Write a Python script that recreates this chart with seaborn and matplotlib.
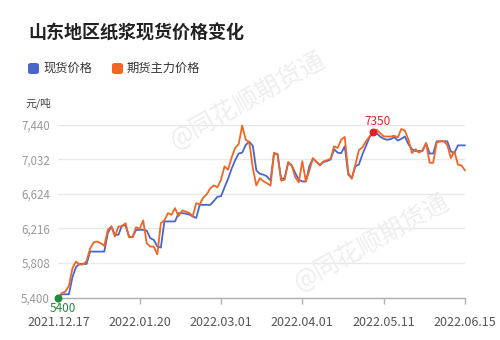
import numpy as np
import pandas as pd
import matplotlib
matplotlib.use("Agg")
import matplotlib.pyplot as plt
from matplotlib.patches import FancyBboxPatch
import seaborn as sns

# ---------------- data ----------------
x_tick_labels = ["2021.12.17", "2022.01.20", "2022.03.01", "2022.04.01", "2022.05.11", "2022.06.15"]
y_ticks = [5400, 5808, 6216, 6624, 7032, 7440]

spot_price = [
    5400, 5438, 5438, 5438, 5640, 5760, 5796, 5796, 5796, 5942,
    5942, 5942, 5942, 5942, 6160, 6240, 6140, 6140, 6250, 6250,
    6120, 6112, 6199, 6199, 6199, 6190, 6100, 6080, 6002, 5990,
    6298, 6298, 6298, 6298, 6396, 6396, 6390, 6380, 6357, 6340,
    6494, 6494, 6494, 6494, 6540, 6590, 6595, 6700, 6800, 6920,
    7020, 7100, 7110, 7200, 7240, 7190, 6900, 6860, 6850, 6830,
    6780, 7100, 7090, 6800, 6810, 6990, 6960, 6870, 6790, 6770,
    6770, 6950, 7040, 7000, 6960, 7000, 7010, 7030, 7150, 7110,
    7105, 7185, 6850, 6810, 6950, 6970, 7090, 7190, 7290, 7350,
    7340, 7300, 7275, 7262, 7270, 7293, 7253, 7273, 7300, 7210,
    7150, 7130, 7130, 7130, 7220, 7100, 7100, 7244, 7244, 7244,
    7244, 7125, 7106, 7196, 7196, 7196,
]

futures_price = [
    5410, 5450, 5470, 5540, 5745, 5824, 5790, 5790, 5830, 5980,
    6050, 6061, 6041, 6010, 6199, 6238, 6120, 6238, 6238, 6277,
    6112, 6112, 6230, 6210, 6310, 6040, 6001, 6001, 5910, 6280,
    6310, 6396, 6376, 6455, 6360, 6427, 6415, 6400, 6356, 6514,
    6500, 6580, 6620, 6690, 6723, 6700, 6790, 6948, 6909, 7050,
    7165, 7210, 7430, 7263, 7236, 6928, 6723, 6810, 6771, 6751,
    6720, 7110, 7090, 6780, 6790, 7000, 6960, 6820, 6760, 7010,
    6770, 6900, 7046, 7000, 6967, 7007, 7020, 7040, 7185, 7165,
    7264, 7295, 6870, 6802, 6968, 7140, 7173, 7244, 7300, 7350,
    7382, 7340, 7303, 7300, 7300, 7310, 7290, 7390, 7370, 7263,
    7106, 7150, 7110, 7140, 7224, 6990, 6990, 7230, 7244, 7244,
    7200, 7046, 7125, 6968, 6960, 6900,
]

series_names = ["现货价格", "期货主力价格"]
colors = ["#4a66cc", "#f26522"]

# ---------------- build frame ----------------
n = len(spot_price)
idx = np.arange(n)
df = pd.DataFrame({
    "i": np.concatenate([idx, idx]),
    "price": spot_price + futures_price,
    "series": [series_names[0]] * n + [series_names[1]] * n,
})

sns.set_theme(style="white")
plt.rcParams["font.family"] = ["Noto Sans CJK SC", "DejaVu Sans"]

W, H = 500, 340
fig = plt.figure(figsize=(W / 100, H / 100), dpi=100)
fig.patch.set_facecolor("white")

x0, x1 = 58.3, 465.0
ytop, ybot = 124.7, 297.5
ax = fig.add_axes([x0 / W, 1 - ybot / H, (x1 - x0) / W, (ybot - ytop) / H])
ax.set_facecolor("none")

# watermarks (behind the data)
for cx, cy in [(248, 100), (372, 242)]:
    fig.text(cx / W, 1 - cy / H, "@同花顺期货通", fontsize=18, color="#eeeeee",
             rotation=29, ha="center", va="center", zorder=0)

sns.lineplot(data=df, x="i", y="price", hue="series", palette=colors,
             hue_order=series_names, linewidth=1.3, legend=False, ax=ax,
             clip_on=False, zorder=3)

ax.set_xlim(0, n - 1)
ax.set_ylim(y_ticks[0], y_ticks[-1])
ax.set_yticks(y_ticks)
ax.set_yticklabels([f"{v:,}" for v in y_ticks])
tick_pos = np.linspace(0, n - 1, len(x_tick_labels))
ax.set_xticks(tick_pos)
ax.set_xticklabels(x_tick_labels)
ax.set_xlabel("")
ax.set_ylabel("")

ax.grid(axis="y", color="#e8e8e8", linewidth=1.0)
ax.grid(axis="x", visible=False)
for s in ["left", "right", "top"]:
    ax.spines[s].set_visible(False)
ax.spines["bottom"].set_color("#b0b0b0")
ax.spines["bottom"].set_linewidth(1.0)
ax.spines["bottom"].set_zorder(2)
ax.tick_params(axis="x", length=4, width=1, color="#b0b0b0", labelsize=9,
               labelcolor="#555555", pad=9, direction="out", bottom=True)
ax.tick_params(axis="y", length=0, labelsize=8.3, labelcolor="#999999", pad=6)

# min / max markers of spot series
spot = np.array(spot_price)
imin, imax = int(np.argmin(spot)), int(np.argmax(spot))
ax.scatter([imin], [spot[imin]], s=22, color="#1e8c3a", zorder=5, clip_on=False)
ax.annotate(f"{spot[imin]}", (imin, spot[imin]), xytext=(3, -8),
            textcoords="offset points", ha="center", va="center",
            fontsize=8.5, color="#1e8c3a", annotation_clip=False)
ax.scatter([imax], [spot[imax]], s=22, color="#e0202a", zorder=5, clip_on=False)
ax.annotate(f"{spot[imax]}", (imax, spot[imax]), xytext=(3, 8),
            textcoords="offset points", ha="center", va="center",
            fontsize=8.5, color="#e0202a", annotation_clip=False)

# title
fig.text(28 / W, 1 - 33 / H, "山东地区纸浆现货价格变化", fontsize=13,
         fontweight="bold", color="#222222", ha="left", va="center")

# legend
leg = [(28, series_names[0], colors[0]), (112, series_names[1], colors[1])]
for px, label, c in leg:
    box = FancyBboxPatch(((px) / W, 1 - 74 / H), 11 / W, 11 / H,
                         boxstyle="round,pad=0,rounding_size=0.006",
                         transform=fig.transFigure, facecolor=c,
                         edgecolor="none")
    fig.patches.append(box)
    fig.text((px + 15) / W, 1 - 68.5 / H, label, fontsize=8.8,
             color="#333333", ha="left", va="center")

# unit
fig.text(25 / W, 1 - 103 / H, "元/吨", fontsize=7.8, color="#444444",
         ha="left", va="center")

fig.savefig("out.png", dpi=100, facecolor="white")
